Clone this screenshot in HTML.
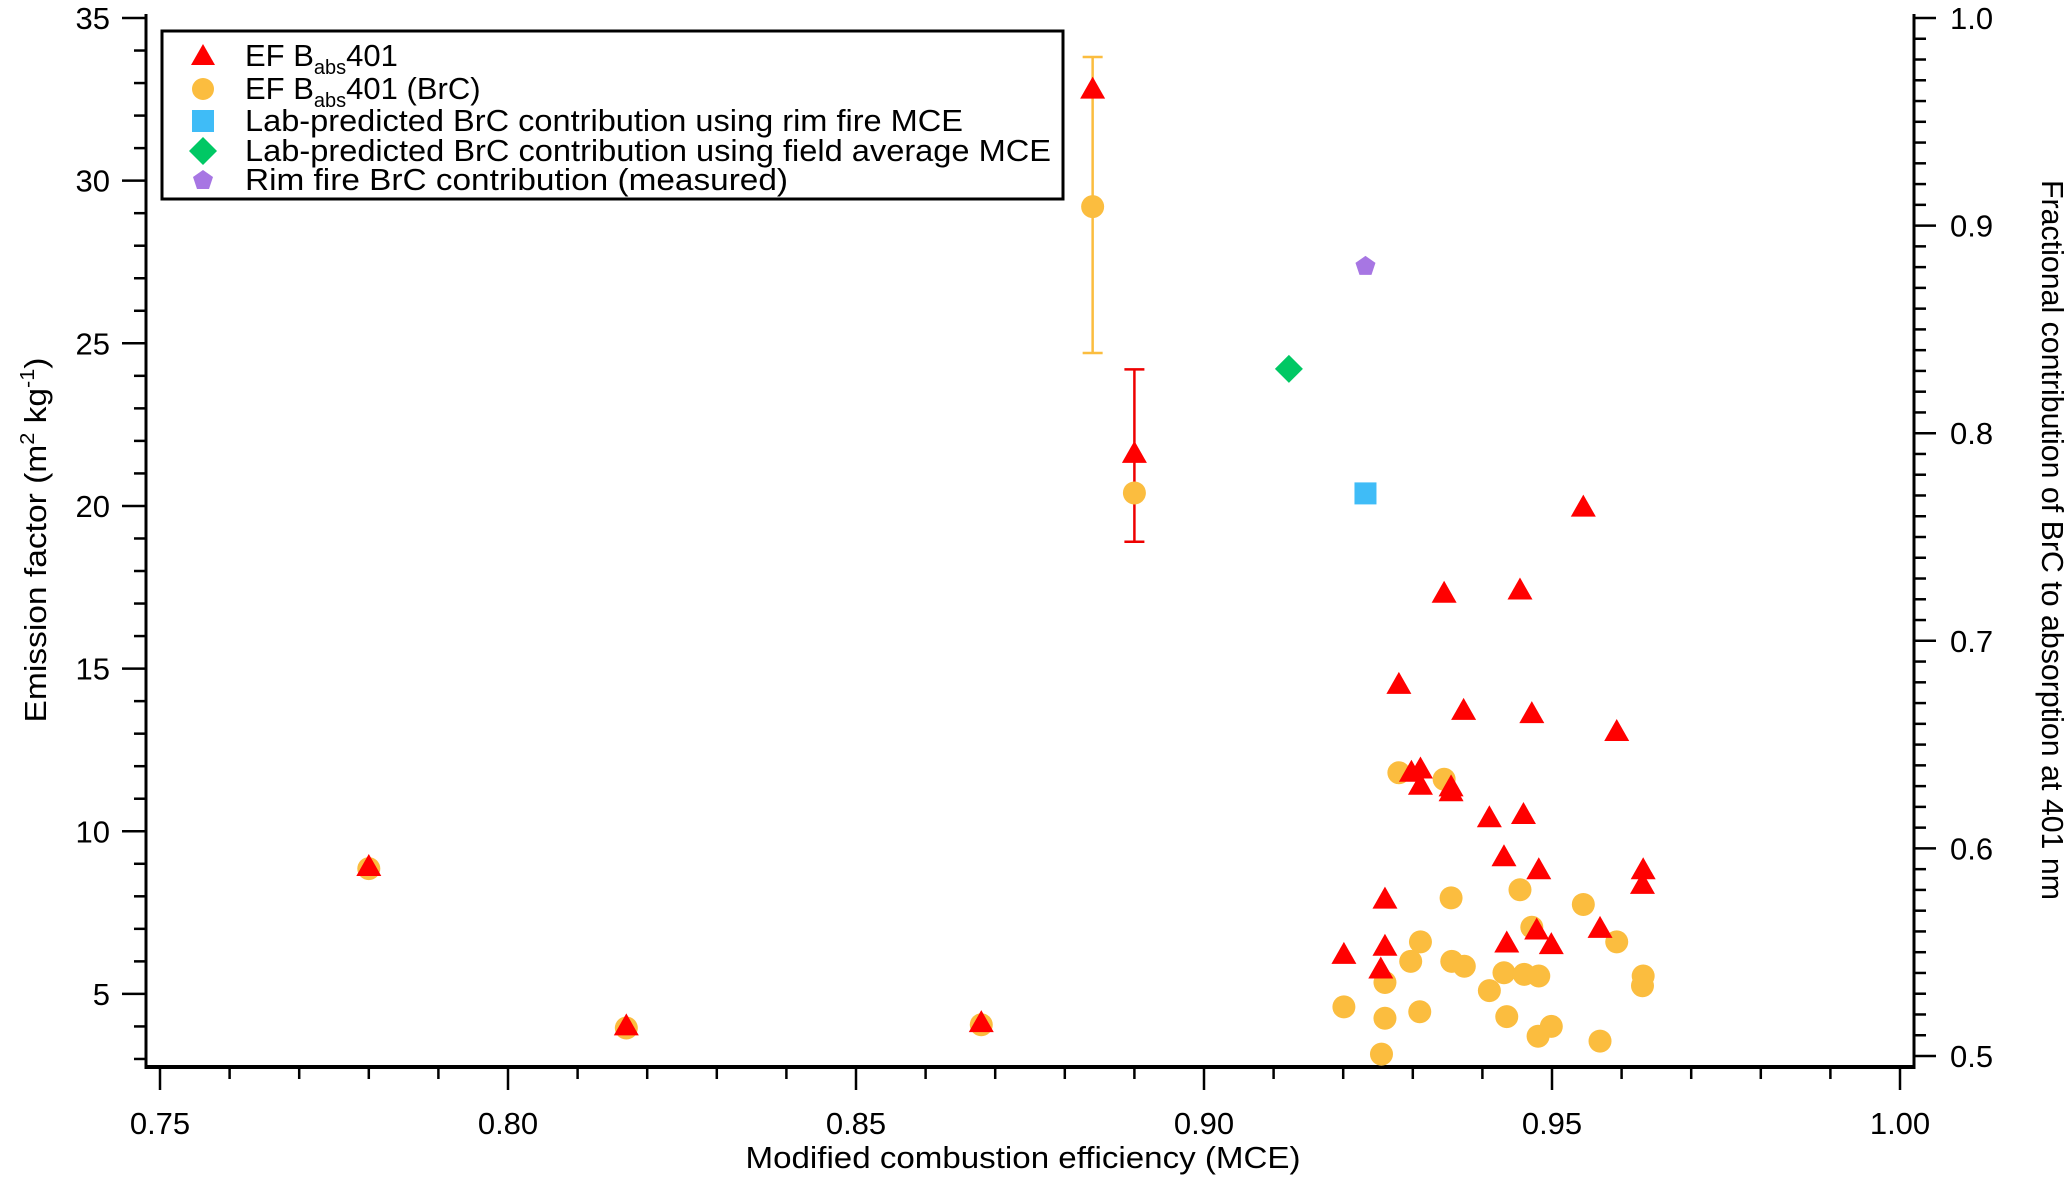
<!DOCTYPE html>
<html><head><meta charset="utf-8"><style>
html,body{margin:0;padding:0;background:#fff;}
svg{display:block;font-family:"Liberation Sans Narrow","Liberation Sans",sans-serif;}
</style></head><body>
<svg id="chart" width="2067" height="1177" viewBox="0 0 2067 1177" xmlns="http://www.w3.org/2000/svg">
<g id="axes"></g>
<g id="marks"></g>
<g id="legend">
  <rect x="162" y="31" width="901" height="168" fill="#fff" stroke="#000" stroke-width="3"/>
  <polygon points="203,44 215,65 191,65" fill="#f00"/>
  <ellipse cx="203" cy="89" rx="11" ry="11" fill="#fbbd3f"/>
  <rect x="192" y="110" width="22" height="22" fill="#3fbcf7"/>
  <polygon points="203,137 217,151 203,165 189,151" fill="#00c864"/>
  <polygon points="203,170 213,177 209,189 197,189 193,177" fill="#a776e3"/>
  <text x="245" y="66" font-size="31">EF B<tspan font-size="20" dy="8">abs</tspan><tspan dy="-8">401</tspan></text>
  <text x="245" y="99" font-size="31">EF B<tspan font-size="20" dy="8">abs</tspan><tspan dy="-8">401 (BrC)</tspan></text>
  <text x="245" y="131" font-size="31" textLength="718" lengthAdjust="spacingAndGlyphs">Lab-predicted BrC contribution using rim fire MCE</text>
  <text x="245" y="161" font-size="31" textLength="806" lengthAdjust="spacingAndGlyphs">Lab-predicted BrC contribution using field average MCE</text>
  <text x="245" y="190" font-size="31" textLength="543" lengthAdjust="spacingAndGlyphs">Rim  fire  BrC contribution (measured)</text>
</g>
<text x="1023" y="1168" font-size="31" text-anchor="middle" textLength="555" lengthAdjust="spacingAndGlyphs">Modified combustion efficiency (MCE)</text>
<text transform="translate(46,540) rotate(-90)" font-size="31" text-anchor="middle" textLength="365" lengthAdjust="spacingAndGlyphs">Emission factor (m<tspan font-size="20" dy="-12">2</tspan><tspan dy="12"> kg</tspan><tspan font-size="20" dy="-12">-1</tspan><tspan dy="12">)</tspan></text>
<text transform="translate(2042,540) rotate(90)" font-size="31" text-anchor="middle" textLength="720" lengthAdjust="spacingAndGlyphs">Fractional contribution of BrC to absorption at 401 nm</text>
</svg>
<script>
const efX=[0.780,0.817,0.868,0.884,0.890,0.9545,0.9345,0.9454,0.928,0.9373,0.9471,0.9593,0.9298,0.9311,0.9311,0.9355,0.9355,0.941,0.9459,0.9431,0.9481,0.9631,0.963,0.926,0.9478,0.9569,0.9435,0.9499,0.926,0.9201,0.9254];
const efY=[8.9,4.0,4.1,32.8,21.6,19.95,17.3,17.4,14.5,13.7,13.6,13.05,11.8,11.9,11.4,11.35,11.2,10.4,10.5,9.2,8.8,8.8,8.35,7.9,6.95,7.0,6.55,6.5,6.45,6.2,5.75];
const brcX=[0.780,0.817,0.868,0.884,0.890,0.928,0.9345,0.9355,0.9454,0.9545,0.9471,0.9593,0.9311,0.9297,0.9356,0.9374,0.9431,0.946,0.9481,0.9631,0.963,0.926,0.941,0.9201,0.926,0.931,0.9435,0.9499,0.948,0.9569,0.9255];
const brcY=[8.85,3.95,4.05,29.2,20.4,11.8,11.6,7.95,8.2,7.75,7.05,6.6,6.6,6.0,6.0,5.85,5.65,5.6,5.55,5.55,5.25,5.35,5.1,4.6,4.25,4.45,4.3,4.0,3.7,3.55,3.15];
const errX=[0.884,0.890];
const errLo=[24.7,18.9];
const errHi=[33.8,24.2];
const rimX=[0.9232];const rimF=[0.771];
const fieldX=[0.9122];const fieldF=[0.831];
const measX=[0.9232];const measF=[0.8806];
const xTicks=["0.75","0.80","0.85","0.90","0.95","1.00"];
const yTicks=["5","10","15","20","25","30","35"];
const y2Ticks=["0.5","0.6","0.7","0.8","0.9","1.0"];

const NS="http://www.w3.org/2000/svg";
const sx=v=>160+(v-0.75)*6960;
const sy=v=>18+(35-v)*32.53;
const sy2=v=>18+(1.0-v)*2076;
const L=146,R=1914,T=14,B=1067;
function mk(tag,attrs,parent){const e=document.createElementNS(NS,tag);for(const k in attrs)e.setAttribute(k,attrs[k]);parent.appendChild(e);return e;}
const ax=document.getElementById('axes'),mg=document.getElementById('marks');
let e;
e=mk('line',{x1:L,y1:T,x2:L,y2:B+2,stroke:'#000','stroke-width':3},ax);


e=mk('line',{x1:R,y1:T,x2:R,y2:B+2,stroke:'#000','stroke-width':3},ax);


e=mk('line',{x1:L,y1:B,x2:R,y2:B,stroke:'#000','stroke-width':4},ax);


for(let i=3;i<=35;i++){const y=sy(i);const maj=i%5===0;
 e=mk('line',{x1:L-(maj?24:12),y1:y,x2:L,y2:y,stroke:'#000','stroke-width':2.5},ax);
 
 }
yTicks.forEach(t=>{e=mk('text',{x:110,y:sy(+t)+11,'font-size':31,'text-anchor':'end','font-family':'Liberation Sans'},ax);e.textContent=t;
 
 });
for(let i=50;i<=100;i++){const y=sy2(i/100);const maj=i%10===0;
 e=mk('line',{x1:R,y1:y,x2:R+(maj?22:12),y2:y,stroke:'#000','stroke-width':2.5},ax);
 
 }
y2Ticks.forEach(t=>{e=mk('text',{x:1950,y:sy2(+t)+11,'font-size':31,'font-family':'Liberation Sans'},ax);e.textContent=t;
 
 });
for(let i=75;i<=100;i++){const x=sx(i/100);const maj=i%5===0;
 e=mk('line',{x1:x,y1:B+2,x2:x,y2:B+(maj?23:12),stroke:'#000','stroke-width':2.5},ax);
 
 }
xTicks.forEach(t=>{e=mk('text',{x:sx(+t),y:1134,'font-size':31,'text-anchor':'middle','font-family':'Liberation Sans'},ax);e.textContent=t;
 
 });
const errCol=['#fbbd3f','#e00'];
errX.forEach((x,i)=>{const cx=sx(x);
 e=mk('path',{d:`M${cx},${sy(errLo[i])}V${sy(errHi[i])}M${cx-10},${sy(errLo[i])}h20M${cx-10},${sy(errHi[i])}h20`,stroke:errCol[i],'stroke-width':2.5,fill:'none'},mg);
 
 });
brcX.forEach((x,i)=>{e=mk('circle',{cx:sx(x),cy:sy(brcY[i]),r:11.5,fill:'#fbbd3f'},mg);
 
 });
efX.forEach((x,i)=>{const cx=sx(x),cy=sy(efY[i]);
 e=mk('polygon',{points:`${cx},${cy-13} ${cx+12.5},${cy+9} ${cx-12.5},${cy+9}`,fill:'#f00'},mg);
 
 });
rimX.forEach((x,i)=>{const cx=sx(x),cy=sy2(rimF[i]);
 e=mk('rect',{x:cx-11,y:cy-11,width:22,height:22,fill:'#3fbcf7'},mg);
 
 });
fieldX.forEach((x,i)=>{const cx=sx(x),cy=sy2(fieldF[i]);
 e=mk('polygon',{points:`${cx},${cy-14} ${cx+14},${cy} ${cx},${cy+14} ${cx-14},${cy}`,fill:'#00c864'},mg);
 
 });
measX.forEach((x,i)=>{const cx=sx(x),cy=sy2(measF[i]);
 e=mk('polygon',{points:`${cx},${cy-10} ${cx+10},${cy-3} ${cx+6},${cy+9} ${cx-6},${cy+9} ${cx-10},${cy-3}`,fill:'#a776e3'},mg);
 
 });
</script>
</body></html>
